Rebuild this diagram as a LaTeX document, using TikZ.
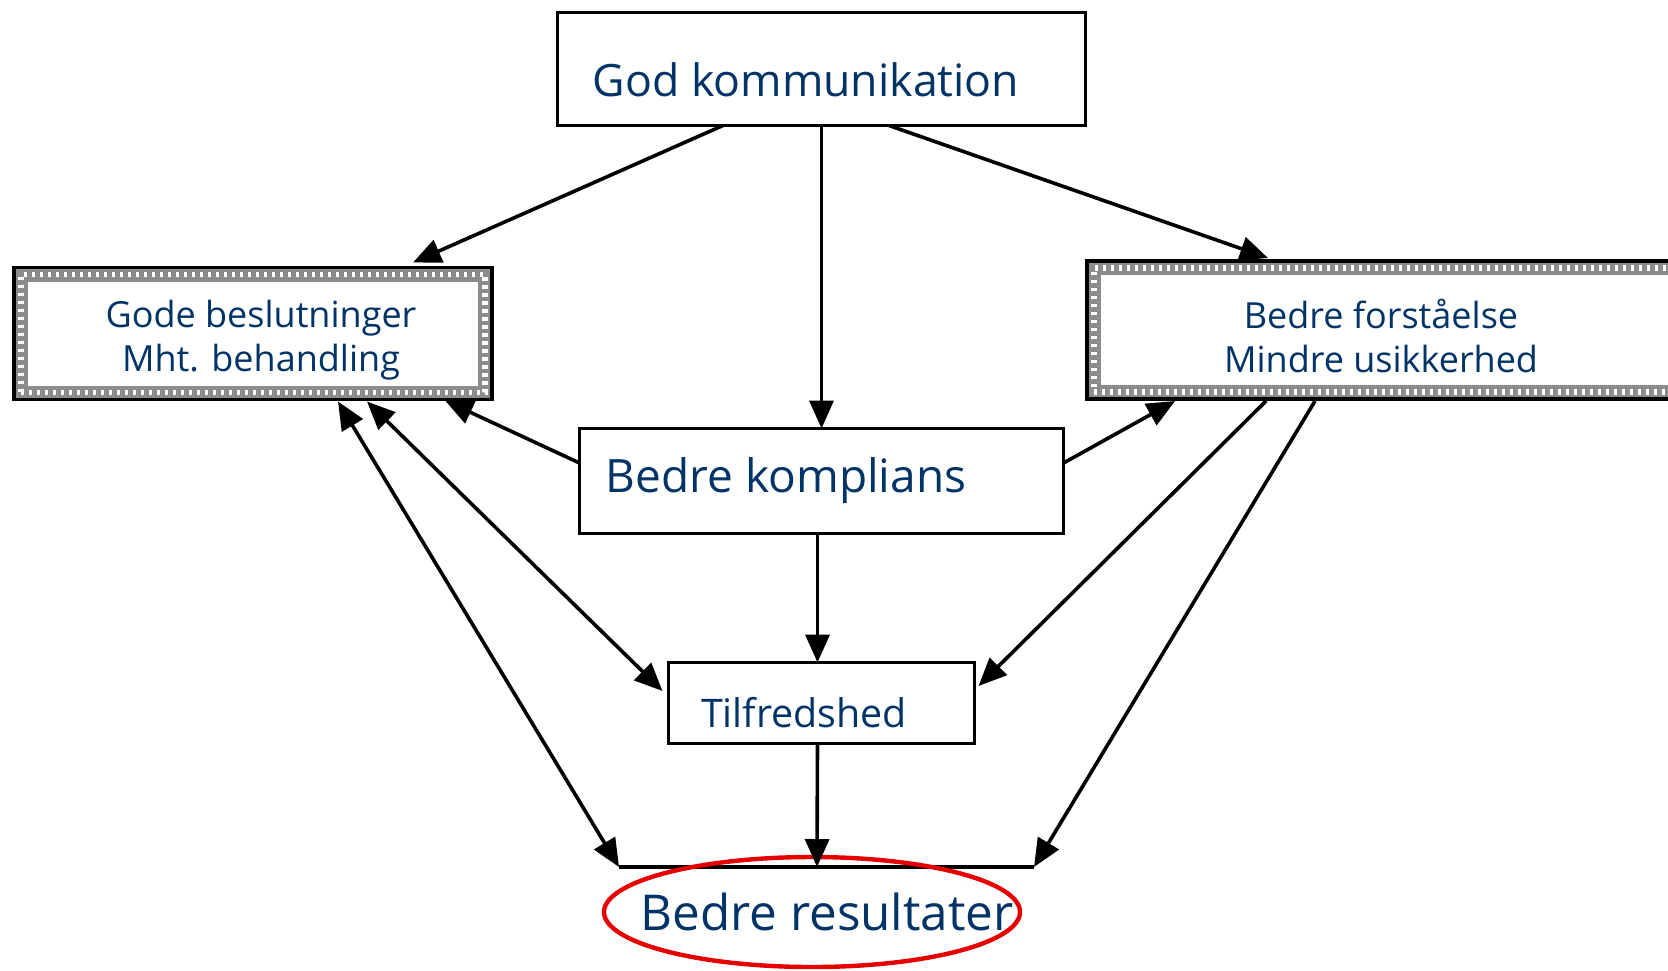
\documentclass[tikz,border=0pt]{standalone}
\usepackage{fontspec}
\setmainfont{Open Sans}
\usetikzlibrary{arrows.meta,calc,shapes.geometric}
\definecolor{navy}{RGB}{0,51,102}
\definecolor{ringred}{RGB}{230,0,0}
\begin{document}
\begin{tikzpicture}[x=0.5pt,y=-0.5pt,
  plainbox/.style={rectangle,draw=black,line width=1.8pt,fill=white,inner sep=0pt,outer sep=0pt},
  dotbox/.style={rectangle,inner sep=0pt,outer sep=0pt,
    preaction={draw=black!45,line width=7pt},
    postaction={draw=white,line width=2.8pt,dash pattern=on 1.6pt off 2.4pt}},
  edge/.style={draw=black,line width=1.6pt},
  lbl/.style={text=navy,inner sep=0pt,align=center},
  conn/.style={line width=1.8pt,-{Triangle[length=14pt,width=12pt]}},
  dconn/.style={line width=1.8pt,{Triangle[length=14pt,width=12pt]}-{Triangle[length=14pt,width=12pt]}},
  ring/.style={ellipse,draw=ringred,line width=2.2pt,inner sep=0pt,outer sep=0pt}]
\useasboundingbox (0,0) rectangle (1668,970);
\fill[white] (0,0) rectangle (1668,970);

% boxes
\node[plainbox,minimum width=264pt,minimum height=56.5pt] (top) at (821.5,69) {};
\node[dotbox,minimum width=232pt,minimum height=59pt] (left) at (253,333.5) {};
\node[dotbox,minimum width=304pt,minimum height=62pt] (right) at (1398,330) {};
\node[plainbox,minimum width=242pt,minimum height=52.5pt] (mid) at (821.5,481) {};
\node[plainbox,minimum width=153pt,minimum height=40.5pt] (tilf) at (821.5,703) {};
\draw[edge] ($(left.north west)+(-7,-7)$) rectangle ($(left.south east)+(7,7)$);
\draw[edge] ($(right.north west)+(-7,-7)$) rectangle ($(right.south east)+(7,7)$);

% texts
\node[lbl,font=\fontsize{22.3}{26}\selectfont] (topT) at (806,80) {God kommunikation};
\node[lbl,font=\fontsize{18}{22}\selectfont] (leftT) at (261,340) {Gode beslutninger\\Mht. behandling};
\node[lbl,font=\fontsize{18}{22}\selectfont] (rightT) at (1381,336) {Bedre forståelse\\Mindre usikkerhed};
\node[lbl,font=\fontsize{23}{27}\selectfont] (midT) at (786,481) {Bedre komplians};
\node[lbl,font=\fontsize{19.7}{23}\selectfont] (tilfT) at (804,713) {Tilfredshed};

% bottom bar
\coordinate (barL) at (619,867);
\coordinate (barR) at (1034,867);
\coordinate (barM) at (817,867);
\draw[line width=1.8pt] (barL) -- (barR);

% result
\node[ring,minimum width=208pt,minimum height=55pt] (res) at (812,912) {};
\node[lbl,font=\fontsize{24.7}{28}\selectfont] (resT) at (827,912) {Bedre resultater};

% connectors
\draw[conn] ($(top.south)+(-98.5,0)$) -- ($(left.north)+(160,-12)$);
\draw[conn] (top.south) -- (mid.north);
\draw[conn] ($(top.south)+(67.5,0)$) -- ($(right.north)+(-130,-10)$);
\draw[conn] ($(mid.west)+(0,-18)$) -- ($(left.south)+(192,8)$);
\draw[conn] ($(mid.east)+(0,-18)$) -- ($(right.south)+(-223,9)$);
\draw[dconn] ($(left.south)+(114,9)$) -- ($(tilf.west)+(-6,-12)$);
\draw[dconn] ($(left.south)+(85,9)$) -- (barL);
\draw[conn] ($(right.south)+(-132,9)$) -- ($(tilf.east)+(4,-17)$);
\draw[conn] ($(right.south)+(-83,9)$) -- (barR);
\draw[conn] ($(mid.south)+(-4,0)$) -- ($(tilf.north)+(-4,0)$);
\draw[conn] ($(tilf.south)+(-4,0)$) -- (barM);
\end{tikzpicture}
\end{document}
